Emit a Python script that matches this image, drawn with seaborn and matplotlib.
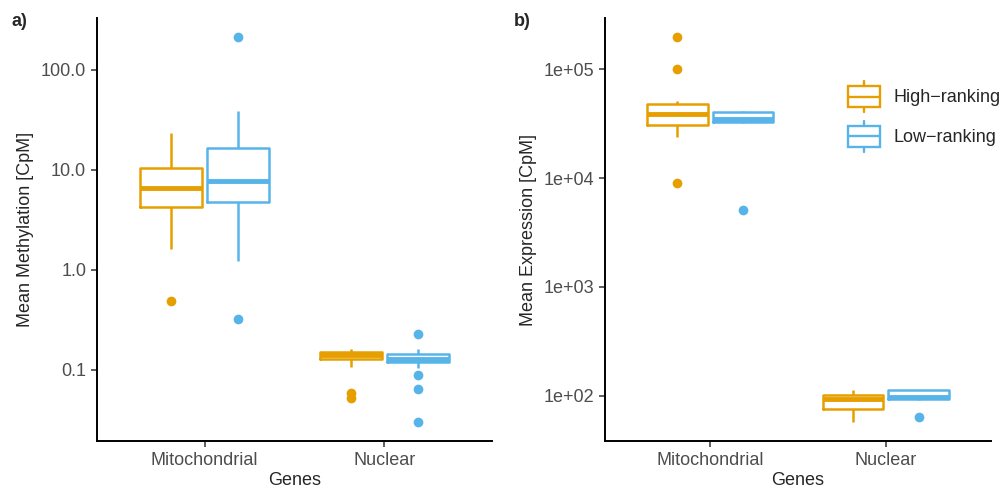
import pandas as pd
import matplotlib
matplotlib.use("Agg")
import matplotlib.pyplot as plt
import seaborn as sns
from matplotlib.legend_handler import HandlerBase
from matplotlib.patches import Rectangle
from matplotlib.lines import Line2D

# values (CpM), one list per box
genes = ["Mitochondrial", "Nuclear"]
ranks = ["High\u2212ranking", "Low\u2212ranking"]
colors = ["#E69F00", "#56B4E9"]

meth_mito_high = [0.49, 1.61, 4.24, 5.2, 6.56, 8.3, 10.5, 15.0, 23.6]
meth_mito_low = [0.32, 1.23, 3.1, 4.82, 5.5, 6.8, 7.76, 9.5, 12.8, 16.5, 24.0, 39.2, 212.0]
meth_nuc_high = [0.053, 0.059, 0.108, 0.128, 0.132, 0.136, 0.14, 0.145, 0.149, 0.152, 0.156, 0.159, 0.162]
meth_nuc_low = [0.030, 0.065, 0.089, 0.104, 0.121, 0.123, 0.125, 0.127, 0.128,
                0.131, 0.136, 0.141, 0.145, 0.150, 0.155, 0.161, 0.231]

expr_mito_high = [8960, 24000, 27500, 30500, 33000, 36000, 38800, 42000, 45500, 48000, 51200, 100000, 197000]
expr_mito_low = [5090, 32200, 32800, 33800, 34900, 37500, 40500, 40800, 41000]
expr_nuc_high = [57, 68, 75.9, 85, 92.7, 97, 102, 108, 113]
expr_nuc_low = [64, 92, 92.7, 94.5, 96.6, 104, 112, 113, 114]

meth_ticks = [0.1, 1, 10, 100]
meth_labels = ["0.1", "1.0", "10.0", "100.0"]
expr_ticks = [1e2, 1e3, 1e4, 1e5]
expr_labels = ["1e+02", "1e+03", "1e+04", "1e+05"]


def long_df(mito_high, mito_low, nuc_high, nuc_low):
    rows = []
    for g, r, vals in [(genes[0], ranks[0], mito_high), (genes[0], ranks[1], mito_low),
                       (genes[1], ranks[0], nuc_high), (genes[1], ranks[1], nuc_low)]:
        rows += [(g, r, v) for v in vals]
    return pd.DataFrame(rows, columns=["Genes", "Rank", "value"])


meth = long_df(meth_mito_high, meth_mito_low, meth_nuc_high, meth_nuc_low)
expr = long_df(expr_mito_high, expr_mito_low, expr_nuc_high, expr_nuc_low)


class BoxKey(HandlerBase):
    def create_artists(self, legend, orig_handle, xdescent, ydescent, width, height, fontsize, trans):
        c = orig_handle.get_edgecolor()
        x0, y0 = -xdescent, -ydescent
        box = Rectangle((x0, y0 + height * 0.15), width, height * 0.7, facecolor="none",
                        edgecolor=c, lw=1.7, transform=trans)
        mid = Line2D([x0, x0 + width], [y0 + height / 2] * 2, color=c, lw=1.7, transform=trans)
        top = Line2D([x0 + width / 2] * 2, [y0 + height * 0.85, y0 + height], color=c, lw=1.7, transform=trans)
        bot = Line2D([x0 + width / 2] * 2, [y0, y0 + height * 0.15], color=c, lw=1.7, transform=trans)
        return [box, mid, top, bot]


sns.set_style("ticks")
plt.rcParams["font.family"] = ["Liberation Sans", "DejaVu Sans"]

fig = plt.figure(figsize=(10.05, 4.93), dpi=100)
ax_a = fig.add_axes([97 / 1005, 52 / 493, 395 / 1005, 423 / 493])
ax_b = fig.add_axes([605 / 1005, 52 / 493, 386 / 1005, 423 / 493])

panels = [
    (ax_a, meth, meth_ticks, meth_labels, (10 ** -1.71, 10 ** 2.52), "Mean Methylation [CpM]", -0.16),
    (ax_b, expr, expr_ticks, expr_labels, (10 ** 1.584, 10 ** 5.471), "Mean Expression [CpM]", -0.176),
]

for ax, df, ticks, labels, lims, ylabel, lx in panels:
    sns.boxplot(data=df, x="Genes", y="value", hue="Rank", order=genes, hue_order=ranks,
                palette=colors, fill=False, log_scale=True, width=0.75, gap=0.08,
                showcaps=False, linewidth=1.8, fliersize=7,
                flierprops={"marker": "o"}, medianprops={"linewidth": 3.5},
                legend=False, ax=ax)
    for cont, col in zip(ax.containers, colors):
        for fl in cont.fliers:
            fl.set_markerfacecolor(col)
            fl.set_markeredgecolor(col)
            fl.set_markeredgewidth(0)
    ax.set_xlim(-0.6, 1.6)
    ax.set_ylim(*lims)
    ax.set_yticks(ticks)
    ax.set_yticklabels(labels)
    ax.minorticks_off()
    ax.tick_params(axis="both", labelsize=13, labelcolor="#4D4D4D", color="#333333",
                   length=4.3, width=1.1, pad=3.5)
    ax.set_ylabel(ylabel, fontsize=13)
    ax.yaxis.set_label_coords(lx, 0.5)
    ax.set_xlabel("Genes", fontsize=13, labelpad=2)
    for side in ["left", "bottom"]:
        ax.spines[side].set_linewidth(1.4)
        ax.spines[side].set_color("black")
    sns.despine(ax=ax)

handles = [Rectangle((0, 0), 1, 1, edgecolor=c, facecolor="none") for c in colors]
ax_b.legend(handles, ranks, handler_map={Rectangle: BoxKey()}, loc="upper left",
            bbox_to_anchor=(0.63, 0.851), borderaxespad=0, borderpad=0, frameon=False,
            fontsize=13, handlelength=1.78, handleheight=2.26, handletextpad=0.72,
            labelspacing=0.5)

fig.text(11 / 1005, 1 - 22 / 493, "a)", fontsize=13, weight="bold", va="center")
fig.text(514 / 1005, 1 - 22 / 493, "b)", fontsize=13, weight="bold", va="center")

fig.savefig("out.png", dpi=100)
